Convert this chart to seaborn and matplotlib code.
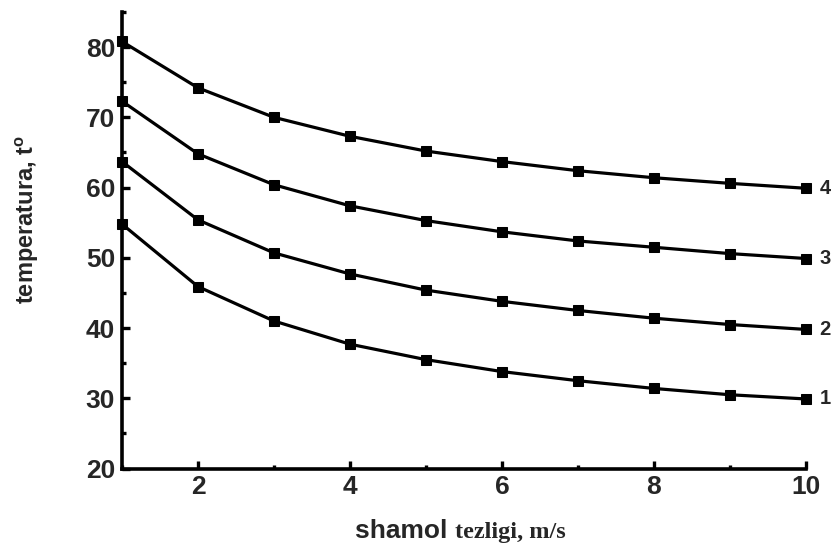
import matplotlib
matplotlib.use("Agg")
import matplotlib.pyplot as plt
from matplotlib.ticker import MultipleLocator
import seaborn as sns
import pandas as pd

# shamol tezligi, m/s
speed = [1, 2, 3, 4, 5, 6, 7, 8, 9, 10]

# temperatura egri chiziqlari (1..4)
curve_1 = [54.8, 45.9, 41.0, 37.7, 35.5, 33.8, 32.5, 31.4, 30.5, 29.9]
curve_2 = [63.7, 55.4, 50.7, 47.7, 45.4, 43.8, 42.5, 41.4, 40.5, 39.8]
curve_3 = [72.3, 64.8, 60.4, 57.4, 55.3, 53.7, 52.4, 51.5, 50.6, 49.9]
curve_4 = [80.8, 74.2, 70.0, 67.3, 65.2, 63.7, 62.4, 61.4, 60.6, 59.9]
curve_names = ["1", "2", "3", "4"]

sns.set_theme(style="ticks")
plt.rcParams["font.family"] = ["Liberation Sans", "DejaVu Sans"]
plt.rcParams["mathtext.fontset"] = "custom"
plt.rcParams["mathtext.rm"] = "Liberation Sans:bold"
plt.rcParams["mathtext.bf"] = "Liberation Sans:bold"

rows = []
for name, vals in zip(curve_names, [curve_1, curve_2, curve_3, curve_4]):
    for x, y in zip(speed, vals):
        rows.append({"speed": x, "temp": y, "curve": name})
df = pd.DataFrame(rows)

fig = plt.figure(figsize=(8.37, 5.47), dpi=100)
ax = fig.add_axes([122 / 837, 1 - 468.5 / 547, 684 / 837, 456.5 / 547])

sns.lineplot(data=df, x="speed", y="temp", hue="curve",
             palette={n: "black" for n in curve_names},
             marker="s", markersize=7, markeredgecolor="black",
             linewidth=2.3, legend=False, ax=ax, clip_on=False)

ax.set_xlim(1, 10)
ax.set_ylim(20, 85)
ax.xaxis.set_major_locator(MultipleLocator(2))
ax.xaxis.set_minor_locator(MultipleLocator(1))
ax.yaxis.set_major_locator(MultipleLocator(10))
ax.yaxis.set_minor_locator(MultipleLocator(5))
ax.set_yticks([20, 30, 40, 50, 60, 70, 80])

for side in ["top", "right"]:
    ax.spines[side].set_visible(False)
for side in ["left", "bottom"]:
    ax.spines[side].set_linewidth(2.6)
    ax.spines[side].set_color("black")

ax.tick_params(which="major", direction="in", length=6, width=2.4,
               labelsize=19, pad=5, color="black")
ax.tick_params(which="minor", direction="in", length=3, width=2.4, color="black")
for lbl in ax.get_xticklabels() + ax.get_yticklabels():
    lbl.set_fontweight("bold")

ax.set_xlabel("")
ax.set_ylabel("")

# curve numbers at the right end
for name, vals in zip(curve_names, [curve_1, curve_2, curve_3, curve_4]):
    ax.text(speed[-1] + 0.18, vals[-1], name, ha="left", va="center",
            fontsize=14.5, fontweight="bold", clip_on=False)

fig.text(27 / 837, 1 - 219 / 547, r"temperatura, t$^{\mathregular{o}}$",
         rotation=90, ha="center", va="center", fontsize=17, fontweight="bold")

fig.text(455 / 837, 1 - 538 / 547, "shamol ", ha="right", va="baseline",
         fontsize=19, fontweight="bold")
fig.text(455 / 837, 1 - 538 / 547, "tezligi, m/s", ha="left", va="baseline",
         fontsize=17.5, fontweight="bold", family=["Liberation Serif", "DejaVu Serif"])

fig.savefig("out.png", dpi=100)
plt.close(fig)
